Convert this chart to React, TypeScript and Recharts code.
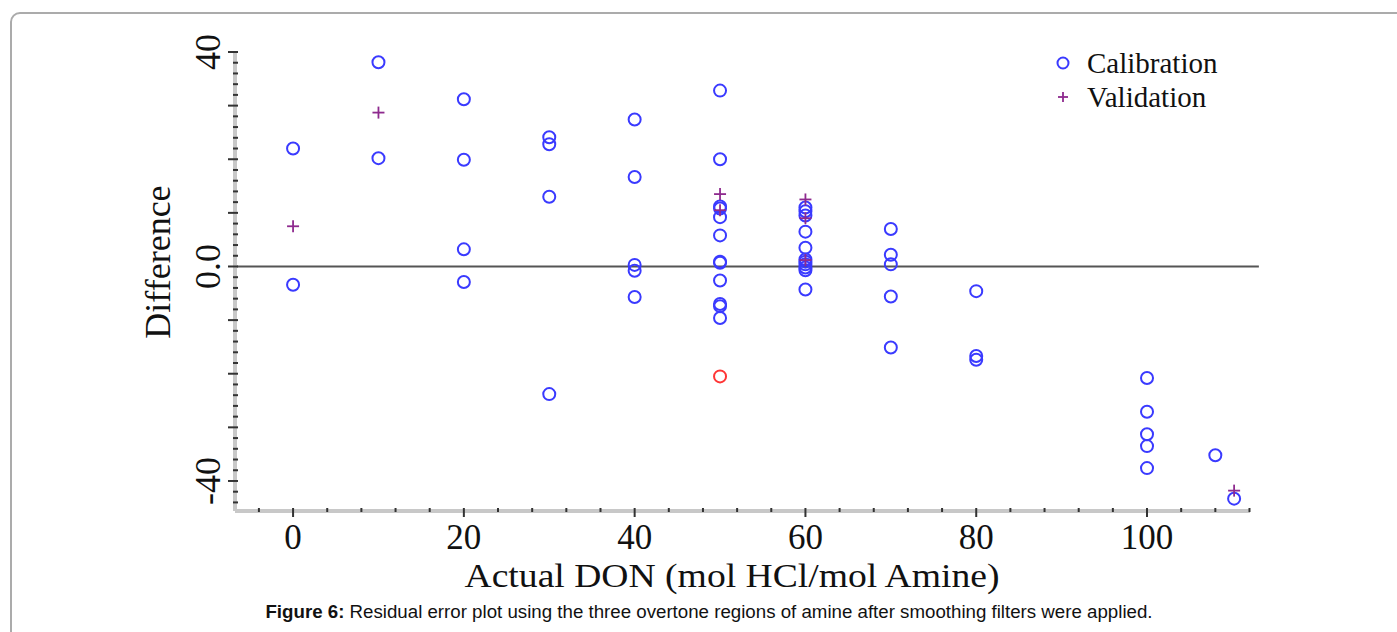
import React from 'react';
import { ScatterChart, Scatter, XAxis, YAxis, ReferenceLine, Legend } from 'recharts';

// residuals
const calibrationX = [
  0, 0, 10, 10, 20, 20, 20, 20, 30, 30, 30, 30, 40, 40, 40, 40, 40,
  50, 50, 50, 50, 50, 50, 50, 50, 50, 50, 50, 50,
  60, 60, 60, 60, 60, 60, 60, 60, 60, 60, 60,
  70, 70, 70, 70, 70, 80, 80, 80, 100, 100, 100, 100, 100, 108, 110.2,
];
const calibrationY = [
  22.0, -3.4, 38.1, 20.2, 31.2, 19.9, 3.2, -2.9, 24.1, 22.8, 13.0, -23.8, 27.4, 16.7, 0.3, -0.8, -5.7,
  32.8, 20.0, 11.2, 10.8, 9.2, 5.8, 0.9, 0.7, -2.6, -7.0, -7.4, -9.6,
  11.0, 10.3, 9.5, 6.5, 3.5, 1.3, 0.9, 0.4, -0.2, -0.7, -4.3,
  7.0, 2.2, 0.4, -5.6, -15.1, -4.6, -16.7, -17.4, -20.8, -27.1, -31.3, -33.5, -37.6, -35.2, -43.3,
];
const validationX = [0, 10, 50, 50, 60, 60, 60, 110.2];
const validationY = [7.5, 28.7, 13.5, 10.5, 12.5, 9.0, 1.2, -41.8];
const outlierX = [50];
const outlierY = [-20.5];

const legendNames = ['Calibration', 'Validation'];
const xTickLabels: Record<number, string> = { 0: '0', 20: '20', 40: '40', 60: '60', 80: '80', 100: '100' };
const yTickLabels: Record<number, string> = { 40: '40', 0: '0.0', [-40]: '-40' };
const xTicks = Array.from({ length: 30 }, (_, i) => -4 + i * 4);
const yTicks = Array.from({ length: 43 }, (_, i) => -44 + i * 2);

const toPoints = (xs: number[], ys: number[]) => xs.map((x, i) => ({ x, y: ys[i] }));
const calibration = toPoints(calibrationX, calibrationY);
const validation = toPoints(validationX, validationY);
const outlier = toPoints(outlierX, outlierY);

const BLUE = '#3a3aff';
const PURPLE = '#8e2a8e';
const RED = '#ff3535';
const SERIF = '"Liberation Serif", "Times New Roman", serif';

const Ring = (color: string) => (p: any) => (
  <circle cx={p.cx} cy={p.cy} r={6} fill="none" stroke={color} strokeWidth={2} />
);
const Plus = (p: any) => (
  <g stroke={PURPLE} strokeWidth={1.8}>
    <line x1={p.cx - 6} x2={p.cx + 6} y1={p.cy} y2={p.cy} />
    <line x1={p.cx} x2={p.cx} y1={p.cy - 6} y2={p.cy + 6} />
  </g>
);

const XTick = (p: any) => {
  const v = p.payload.value;
  const major = v % 20 === 0;
  return (
    <g>
      <line x1={p.x} x2={p.x} y1={p.y - 3} y2={p.y + (major ? 6 : 1)} stroke="#333" strokeWidth={2} />
      {xTickLabels[v] && (
        <text x={p.x} y={p.y + 38} textAnchor="middle" fontFamily={SERIF} fontSize={35} fill="#111">
          {xTickLabels[v]}
        </text>
      )}
    </g>
  );
};

const YTick = (p: any) => {
  const v = p.payload.value;
  const major = v % 10 === 0;
  const tx = p.x - 15;
  return (
    <g>
      <line x1={p.x - (major ? 7 : 2)} x2={p.x + 3} y1={p.y} y2={p.y} stroke="#333" strokeWidth={2} />
      {yTickLabels[v] && (
        <text
          x={tx}
          y={p.y}
          transform={`rotate(-90, ${tx}, ${p.y})`}
          textAnchor="middle"
          fontFamily={SERIF}
          fontSize={36}
          fill="#111"
        >
          {yTickLabels[v]}
        </text>
      )}
    </g>
  );
};

const LegendBox = (props: any) => {
  const items = (props.payload || []).filter((e: any) => legendNames.includes(e.value));
  items.sort((a: any, b: any) => legendNames.indexOf(a.value) - legendNames.indexOf(b.value));
  return (
    <div style={{ fontFamily: SERIF, fontSize: 29, color: '#111' }}>
      {items.map((e: any) => (
        <div key={e.value} style={{ display: 'flex', alignItems: 'center', height: 34 }}>
          <svg width={24} height={20} style={{ marginRight: 12 }}>
            {e.value === 'Calibration' ? (
              <circle cx={12} cy={10} r={5.5} fill="none" stroke={BLUE} strokeWidth={2} />
            ) : (
              <g stroke={PURPLE} strokeWidth={1.8}>
                <line x1={7} x2={17} y1={10} y2={10} />
                <line x1={12} x2={12} y1={5} y2={15} />
              </g>
            )}
          </svg>
          <span>{e.value}</span>
        </div>
      ))}
    </div>
  );
};

export default function App() {
  return (
    <div style={{ position: 'absolute', left: 0, top: 0, width: 1397, height: 632, overflow: 'hidden', background: '#fff' }}>
      <div
        style={{
          position: 'absolute',
          left: 10,
          top: 12,
          width: 1420,
          height: 660,
          border: '2px solid #ababab',
          borderRadius: 10,
        }}
      />
      <ScatterChart width={1397} height={632} margin={{ top: 52, right: 147, bottom: 61, left: 0 }}>
        <XAxis
          type="number"
          dataKey="x"
          domain={[-6.8, 112.06]}
          ticks={xTicks}
          tick={<XTick />}
          tickSize={0}
          tickMargin={0}
          interval={0}
          height={60}
          axisLine={{ stroke: '#c8c8c8', strokeWidth: 4 }}
          label={() => (
            <text x={732} y={587} textAnchor="middle" fontFamily={SERIF} fontSize={34} textLength={535} lengthAdjust="spacingAndGlyphs" fill="#111">
              Actual DON (mol HCl/mol Amine)
            </text>
          )}
        />
        <YAxis
          type="number"
          dataKey="y"
          domain={[-45.6, 40]}
          ticks={yTicks}
          tick={<YTick />}
          tickSize={0}
          tickMargin={0}
          interval={0}
          width={235}
          axisLine={{ stroke: '#c8c8c8', strokeWidth: 4 }}
          label={() => (
            <text x={170} y={262} transform="rotate(-90, 170, 262)" textAnchor="middle" fontFamily={SERIF} fontSize={36} fill="#111">
              Difference
            </text>
          )}
        />
        <ReferenceLine
          segment={[{ x: -6.8, y: 0 }, { x: 113.1, y: 0 }]}
          ifOverflow="visible"
          stroke="#555"
          strokeWidth={2}
        />
        <Legend
          layout="vertical"
          align="center"
          verticalAlign="middle"
          content={<LegendBox />}
          wrapperStyle={{ left: 1051, top: 46, width: 220, height: 70 }}
        />
        <Scatter name="Calibration" data={calibration} shape={Ring(BLUE)} isAnimationActive={false} />
        <Scatter name="Validation" data={validation} shape={Plus} isAnimationActive={false} />
        <Scatter name="Outlier" data={outlier} shape={Ring(RED)} legendType="none" isAnimationActive={false} />
      </ScatterChart>
      <div
        style={{
          position: 'absolute',
          left: 0,
          width: 1418,
          top: 601,
          textAlign: 'center',
          fontFamily: '"Liberation Sans", Arial, sans-serif',
          fontSize: 18.7,
          color: '#111',
        }}
      >
        <b>Figure 6:</b> Residual error plot using the three overtone regions of amine after smoothing filters were applied.
      </div>
    </div>
  );
}
